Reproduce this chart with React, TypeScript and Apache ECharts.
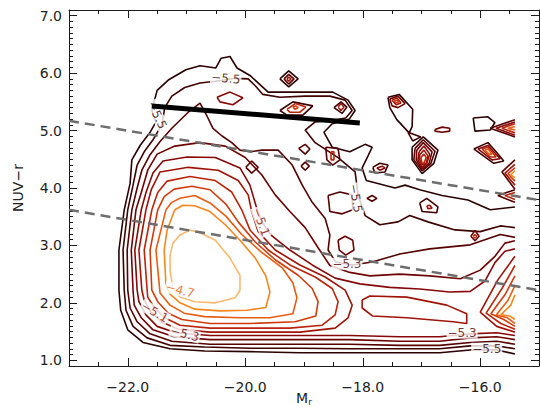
import React, { useEffect, useRef } from 'react';
import * as echarts from 'echarts';

const X_MIN = -23;
const X_MAX = -15;
const Y_MIN = 0.9;
const Y_MAX = 7.1;
const X_MAJOR = [-22, -20, -18, -16];
const X_MINOR = [-22.5, -21.5, -21, -20.5, -19.5, -19, -18.5, -17.5, -17, -16.5, -15.5];
const Y_MAJOR = [1, 2, 3, 4, 5, 6, 7];
const Y_MINOR_STEP = 0.1;
const LEVELS = [-5.5, -5.4, -5.3, -5.2, -5.1, -5.0, -4.9, -4.8, -4.7, -4.6, -4.5];

const L1 = [[-15.41,1.11],[-15.72,1.18],[-16.17,1.18],[-16.69,1.13],[-17.37,1.13],[-18.22,1.13],[-19.07,1.13],[-19.92,1.15],[-20.69,1.16],[-21.28,1.20],[-21.74,1.31],[-22.00,1.53],[-22.12,1.87],[-22.15,2.22],[-22.15,2.92],[-22.06,3.62],[-21.96,4.08],[-21.93,4.49],[-21.79,4.74],[-21.62,4.97],[-21.52,5.15],[-21.59,5.35],[-21.50,5.70],[-21.31,5.88],[-21.01,6.06],[-20.77,6.13],[-20.50,6.09],[-20.41,6.26],[-20.26,6.29],[-20.14,6.09],[-19.92,5.96],[-19.61,5.67],[-19.07,5.67],[-18.51,5.67],[-18.25,5.53],[-18.13,5.35],[-18.23,5.20],[-18.52,5.12],[-18.66,4.97],[-18.52,4.71],[-18.22,4.63],[-17.96,4.76],[-17.84,4.71],[-17.91,4.56],[-18.01,4.35],[-17.94,4.13],[-17.71,4.07],[-17.45,4.00],[-17.28,4.05],[-17.03,3.97],[-16.65,3.87],[-16.21,3.79],[-15.83,3.62],[-15.41,3.67]];
const L2 = [[-15.41,1.20],[-15.72,1.25],[-16.17,1.25],[-16.69,1.20],[-17.37,1.20],[-18.22,1.20],[-19.07,1.21],[-19.92,1.21],[-20.69,1.23],[-21.28,1.26],[-21.67,1.39],[-21.91,1.59],[-22.03,1.87],[-22.06,2.22],[-22.08,2.92],[-22.00,3.62],[-21.91,4.05],[-21.84,4.40],[-21.72,4.63],[-21.57,4.84],[-21.42,5.10],[-21.37,5.40],[-21.25,5.60],[-21.03,5.75],[-20.77,5.83],[-20.51,5.86],[-20.17,5.91],[-19.95,5.90],[-19.83,5.78],[-19.70,5.63],[-19.41,5.58],[-18.98,5.60],[-18.56,5.60],[-18.30,5.53],[-18.18,5.35],[-18.29,5.22],[-18.56,5.17],[-18.81,5.15],[-18.98,5.01],[-18.81,4.79],[-18.42,4.53],[-18.13,4.28],[-18.08,3.88],[-17.96,3.52],[-17.71,3.36],[-17.40,3.41],[-17.20,3.52],[-16.89,3.41],[-16.43,3.27],[-16.00,3.24],[-15.66,3.34],[-15.41,3.31]];
const L3 = [[-15.41,1.28],[-15.72,1.33],[-16.17,1.31],[-16.69,1.26],[-17.37,1.26],[-18.22,1.28],[-19.07,1.28],[-19.92,1.28],[-20.60,1.28],[-21.25,1.33],[-21.62,1.46],[-21.84,1.67],[-21.96,1.91],[-22.00,2.22],[-22.01,2.92],[-21.93,3.62],[-21.84,4.00],[-21.76,4.31],[-21.62,4.58],[-21.45,4.81],[-21.25,5.04],[-20.97,5.32],[-20.77,5.48],[-20.65,5.25],[-20.55,5.04],[-20.40,4.91],[-20.23,4.79],[-20.09,4.66],[-19.92,4.63],[-19.72,4.66],[-19.44,4.66],[-19.20,4.40],[-19.03,4.05],[-18.86,3.75],[-18.64,3.47],[-18.56,3.18],[-18.59,2.92],[-18.46,2.71],[-18.18,2.66],[-17.84,2.71],[-17.37,2.85],[-16.86,2.94],[-16.17,3.01],[-15.66,3.19],[-15.41,3.14]];
const L4 = [[-15.41,1.36],[-15.72,1.41],[-16.17,1.39],[-16.69,1.33],[-17.37,1.33],[-18.22,1.36],[-19.07,1.36],[-19.92,1.36],[-20.60,1.36],[-21.21,1.41],[-21.57,1.53],[-21.77,1.74],[-21.89,1.96],[-21.91,2.22],[-21.94,2.92],[-21.86,3.62],[-21.77,3.92],[-21.66,4.31],[-21.50,4.59],[-21.20,4.73],[-20.77,4.79],[-20.34,4.73],[-20.00,4.53],[-19.72,4.23],[-19.49,3.88],[-19.24,3.59],[-18.98,3.31],[-18.76,2.96],[-18.56,2.65],[-18.22,2.53],[-17.88,2.47],[-17.37,2.50],[-16.86,2.47],[-16.34,2.42],[-16.00,2.57],[-15.75,2.81],[-15.58,3.04],[-15.41,3.08]];
const L5 = [[-15.41,1.43],[-15.72,1.48],[-16.17,1.46],[-16.69,1.41],[-17.37,1.41],[-18.22,1.43],[-19.07,1.43],[-19.92,1.43],[-20.60,1.43],[-21.18,1.48],[-21.50,1.59],[-21.69,1.79],[-21.81,2.02],[-21.84,2.22],[-21.88,2.92],[-21.77,3.62],[-21.69,3.92],[-21.57,4.26],[-21.40,4.47],[-20.99,4.54],[-20.51,4.53],[-20.09,4.35],[-19.92,4.05],[-19.82,3.70],[-19.72,3.41],[-19.54,3.16],[-19.24,2.92],[-18.86,2.66],[-18.47,2.43],[-18.05,2.33],[-17.54,2.27],[-17.03,2.24],[-16.52,2.19],[-16.17,2.20],[-15.92,2.38],[-15.75,2.70],[-15.58,2.90],[-15.41,2.94]];
const L6 = [[-21.69,3.62],[-21.60,3.97],[-21.45,4.28],[-20.97,4.36],[-20.46,4.31],[-20.12,4.13],[-19.95,3.88],[-19.89,3.59],[-19.78,3.24],[-19.49,2.92],[-19.07,2.66],[-18.64,2.45],[-18.30,2.22],[-18.18,1.96],[-18.25,1.74],[-18.47,1.56],[-19.07,1.49],[-19.92,1.49],[-20.60,1.49],[-21.14,1.54],[-21.43,1.67],[-21.62,1.86],[-21.72,2.05],[-21.76,2.22],[-21.81,2.92],[-21.69,3.62]];
const L6_ISLAND = [[-18.01,2.05],[-17.88,2.12],[-17.25,2.10],[-16.57,1.96],[-16.23,1.81],[-16.23,1.64],[-16.46,1.67],[-17.25,1.74],[-17.83,1.77],[-18.01,1.91],[-18.01,2.05]];
const L7 = [[-21.59,3.62],[-21.49,3.92],[-21.33,4.12],[-20.94,4.20],[-20.51,4.13],[-20.23,3.93],[-20.06,3.62],[-19.92,3.27],[-19.61,2.92],[-19.24,2.66],[-18.81,2.45],[-18.52,2.25],[-18.42,2.02],[-18.47,1.79],[-18.69,1.61],[-19.24,1.56],[-19.92,1.56],[-20.60,1.56],[-21.11,1.61],[-21.37,1.74],[-21.55,1.92],[-21.66,2.10],[-21.67,2.22],[-21.72,2.92],[-21.59,3.62]];
const L8 = [[-21.49,3.62],[-21.38,3.85],[-21.21,3.98],[-20.91,4.03],[-20.60,3.97],[-20.33,3.72],[-20.12,3.41],[-19.83,3.06],[-19.49,2.75],[-19.10,2.48],[-18.86,2.25],[-18.76,2.02],[-18.80,1.77],[-19.15,1.67],[-19.92,1.64],[-20.60,1.64],[-21.08,1.71],[-21.31,1.82],[-21.49,2.02],[-21.59,2.22],[-21.62,2.92],[-21.49,3.62]];
const L9 = [[-21.35,3.62],[-21.25,3.75],[-21.11,3.82],[-20.86,3.87],[-20.60,3.74],[-20.33,3.51],[-20.06,3.19],[-19.72,2.88],[-19.37,2.61],[-19.19,2.35],[-19.12,2.09],[-19.19,1.81],[-19.58,1.74],[-20.09,1.74],[-20.69,1.76],[-21.04,1.82],[-21.28,1.96],[-21.45,2.17],[-21.52,2.92],[-21.35,3.62]];
const L10 = [[-21.20,3.62],[-21.06,3.70],[-20.86,3.69],[-20.60,3.59],[-20.34,3.36],[-20.09,3.09],[-19.83,2.78],[-19.65,2.47],[-19.58,2.19],[-19.65,1.92],[-19.97,1.87],[-20.43,1.86],[-20.86,1.89],[-21.11,2.00],[-21.28,2.15],[-21.35,2.31],[-21.38,2.92],[-21.33,3.27],[-21.20,3.62]];
const L11 = [[-20.94,3.27],[-20.77,3.22],[-20.51,3.09],[-20.26,2.78],[-20.09,2.48],[-20.09,2.22],[-20.17,2.09],[-20.51,2.00],[-20.86,2.02],[-21.11,2.10],[-21.23,2.25],[-21.28,2.57],[-21.28,2.83],[-21.23,3.04],[-21.11,3.18],[-20.94,3.27]];

// secondary peak at the faint end (right edge)
const RL6 = [[-15.41,2.81],[-15.70,2.40],[-16.00,1.84],[-15.72,1.59],[-15.41,1.49]];
const RL7 = [[-15.41,2.65],[-15.63,2.25],[-15.90,1.82],[-15.65,1.64],[-15.41,1.54]];
const RL8 = [[-15.41,2.47],[-15.58,2.14],[-15.82,1.81],[-15.60,1.71],[-15.41,1.59]];
const RL9 = [[-15.41,2.30],[-15.53,2.04],[-15.73,1.79],[-15.54,1.74],[-15.41,1.64]];
const RL10 = [[-15.41,2.14],[-15.48,1.96],[-15.65,1.79],[-15.49,1.77],[-15.41,1.71]];

// small islands
const D1A = [[-19.41,5.90],[-19.26,6.04],[-19.10,5.90],[-19.26,5.76],[-19.41,5.90]];
const D1B = [[-19.34,5.90],[-19.26,5.98],[-19.17,5.90],[-19.26,5.81],[-19.34,5.90]];
const D1C = [[-19.29,5.90],[-19.26,5.93],[-19.22,5.90],[-19.26,5.86],[-19.29,5.90]];
const I2 = [[-20.48,5.58],[-20.26,5.67],[-20.04,5.57],[-20.21,5.45],[-20.43,5.50],[-20.48,5.58]];
const I3A = [[-19.41,5.35],[-19.19,5.50],[-18.85,5.43],[-19.02,5.27],[-19.29,5.27],[-19.41,5.35]];
const I3B = [[-19.29,5.37],[-19.15,5.47],[-18.97,5.41],[-19.07,5.32],[-19.24,5.32],[-19.29,5.37]];
const I3C = [[-19.19,5.41],[-19.14,5.43],[-19.10,5.40],[-19.15,5.37],[-19.19,5.41]];
const I4A = [[-18.49,5.40],[-18.37,5.50],[-18.27,5.41],[-18.35,5.30],[-18.49,5.40]];
const I4B = [[-18.42,5.41],[-18.37,5.47],[-18.32,5.41],[-18.37,5.35],[-18.42,5.41]];
const I5A = [[-19.99,4.36],[-19.89,4.47],[-19.78,4.36],[-19.89,4.26],[-19.99,4.36]];
const I5B = [[-19.09,4.69],[-18.98,4.76],[-18.90,4.68],[-18.98,4.59],[-19.09,4.69]];
const I5C = [[-19.05,4.38],[-18.98,4.45],[-18.91,4.38],[-18.98,4.31],[-19.05,4.38]];
const I6A = [[-18.63,4.71],[-18.42,4.69],[-18.39,4.49],[-18.51,4.40],[-18.61,4.49],[-18.63,4.71]];
const I6B = [[-18.54,4.63],[-18.49,4.63],[-18.49,4.49],[-18.54,4.49],[-18.54,4.63]];
const I7A = [[-17.57,5.58],[-17.38,5.63],[-17.15,5.37],[-17.16,5.07],[-17.21,4.96],[-17.42,5.19],[-17.54,5.40],[-17.57,5.58]];
const I7B = [[-17.54,5.55],[-17.40,5.60],[-17.28,5.47],[-17.40,5.40],[-17.50,5.43],[-17.54,5.55]];
const I7C = [[-17.50,5.53],[-17.42,5.57],[-17.35,5.48],[-17.43,5.45],[-17.50,5.53]];
const I7D = [[-17.47,5.52],[-17.42,5.53],[-17.38,5.50],[-17.43,5.48],[-17.47,5.52]];
const I7T = [[-17.23,4.97],[-17.15,4.82],[-17.01,4.89],[-17.23,4.97]];
const N1 = [[-17.16,4.71],[-16.97,4.89],[-16.72,4.66],[-16.79,4.43],[-16.99,4.25],[-17.16,4.49],[-17.16,4.71]];
const N2 = [[-17.11,4.69],[-16.97,4.84],[-16.77,4.64],[-16.84,4.43],[-16.99,4.30],[-17.13,4.49],[-17.11,4.69]];
const N3 = [[-17.08,4.66],[-16.97,4.79],[-16.82,4.63],[-16.87,4.43],[-16.99,4.33],[-17.09,4.49],[-17.08,4.66]];
const N4 = [[-17.04,4.63],[-16.96,4.73],[-16.86,4.59],[-16.91,4.43],[-16.99,4.36],[-17.06,4.49],[-17.04,4.63]];
const N5 = [[-17.03,4.58],[-16.96,4.66],[-16.89,4.56],[-16.92,4.43],[-16.99,4.40],[-17.03,4.49],[-17.03,4.58]];
const N6 = [[-17.01,4.53],[-16.96,4.59],[-16.92,4.53],[-16.96,4.43],[-16.99,4.43],[-17.01,4.53]];
const I9 = [[-16.77,5.02],[-16.65,5.06],[-16.52,5.04],[-16.52,4.99],[-16.65,4.97],[-16.77,4.99],[-16.77,5.02]];
const I10 = [[-16.12,5.22],[-15.87,5.24],[-15.75,5.14],[-15.83,5.01],[-16.09,4.99],[-16.12,5.22]];
const T1A = [[-15.41,5.19],[-15.83,5.04],[-15.41,4.89]];
const T1B = [[-15.41,5.15],[-15.73,5.04],[-15.41,4.92]];
const T1C = [[-15.41,5.12],[-15.63,5.04],[-15.41,4.96]];
const T1D = [[-15.41,5.07],[-15.53,5.04],[-15.41,5.01]];
const T2A = [[-16.11,4.68],[-15.87,4.79],[-15.73,4.63],[-15.60,4.47],[-15.77,4.43],[-16.11,4.68]];
const T2B = [[-16.04,4.68],[-15.87,4.74],[-15.77,4.63],[-15.66,4.51],[-15.80,4.49],[-16.04,4.68]];
const T2C = [[-15.97,4.68],[-15.87,4.71],[-15.80,4.63],[-15.73,4.54],[-15.83,4.54],[-15.97,4.68]];
const T2D = [[-15.92,4.66],[-15.87,4.68],[-15.83,4.63],[-15.80,4.58],[-15.85,4.59],[-15.92,4.66]];
const T3A = [[-15.41,4.49],[-15.63,4.28],[-15.41,3.98]];
const T3B = [[-15.41,4.41],[-15.58,4.26],[-15.41,4.05]];
const T3C = [[-15.41,4.35],[-15.53,4.25],[-15.41,4.12]];
const T3D = [[-15.41,4.30],[-15.48,4.23],[-15.41,4.18]];
const T4A = [[-15.41,3.97],[-15.70,3.87],[-15.41,3.75]];
const T4B = [[-15.41,3.92],[-15.58,3.87],[-15.41,3.80]];
const I14A = [[-17.83,4.36],[-17.71,4.43],[-17.57,4.40],[-17.62,4.28],[-17.79,4.26],[-17.83,4.36]];
const I14B = [[-17.76,4.35],[-17.67,4.38],[-17.62,4.35],[-17.71,4.31],[-17.76,4.35]];
const I15A = [[-17.03,3.74],[-16.91,3.82],[-16.72,3.67],[-16.74,3.57],[-16.99,3.59],[-17.03,3.74]];
const I15B = [[-16.91,3.69],[-16.86,3.70],[-16.82,3.65],[-16.89,3.64],[-16.91,3.69]];
const I16 = [[-17.93,3.82],[-17.84,3.87],[-17.76,3.82],[-17.84,3.77],[-17.93,3.82]];
const SQ = [[-18.59,3.87],[-18.39,3.93],[-18.18,3.88],[-18.17,3.62],[-18.35,3.55],[-18.56,3.59],[-18.59,3.87]];
const HEX = [[-18.42,3.09],[-18.30,3.16],[-18.17,3.09],[-18.15,2.92],[-18.29,2.83],[-18.40,2.92],[-18.42,3.09]];
const D2A = [[-16.16,3.16],[-16.09,3.26],[-16.02,3.16],[-16.09,3.08],[-16.16,3.16]];
const D2B = [[-16.12,3.16],[-16.09,3.19],[-16.06,3.16],[-16.09,3.13],[-16.12,3.16]];

// [level index, polyline]
const CONTOURS: [number, number[][]][] = [
  [0, L1], [1, L2], [2, L3], [3, L4], [4, L5], [5, L6], [5, L6_ISLAND], [6, L7], [7, L8], [8, L9], [9, L10], [10, L11],
  [5, RL6], [6, RL7], [7, RL8], [8, RL9], [9, RL10],
  [0, D1A], [2, D1B], [5, D1C], [4, I2], [1, I3A], [6, I3B], [7, I3C], [1, I4A], [5, I4B],
  [2, I5A], [2, I5B], [2, I5C], [2, I6A], [6, I6B],
  [0, I7A], [3, I7B], [5, I7C], [7, I7D], [1, I7T],
  [0, N1], [2, N2], [3, N3], [4, N4], [5, N5], [6, N6],
  [3, I9], [0, I10], [2, T1A], [4, T1B], [6, T1C], [8, T1D],
  [1, T2A], [4, T2B], [6, T2C], [8, T2D],
  [2, T3A], [5, T3B], [7, T3C], [9, T3D], [2, T4A], [6, T4B],
  [1, I14A], [4, I14B], [1, I15A], [5, I15B], [2, I16], [2, SQ], [3, HEX], [3, D2A], [6, D2B],
];

// [x, y, text, level index, rotation]
const CONTOUR_LABELS: [number, number, string, number, number][] = [
  [-20.33, 5.91, '\u22125.5', 1, -5],
  [-21.50, 5.27, '\u22125.5', 0, -65],
  [-19.73, 3.41, '\u22125.1', 4, -70],
  [-18.27, 2.68, '\u22125.3', 2, 0],
  [-18.12, 3.82, '\u22125.5', 1, -80],
  [-15.89, 1.20, '\u22125.5', 0, 0],
  [-16.31, 1.48, '\u22125.3', 2, 0],
  [-21.11, 2.22, '\u22124.7', 8, -15],
  [-21.54, 1.84, '\u22125.1', 4, -30],
  [-21.03, 1.46, '\u22125.3', 2, -15],
];

const BLACK_LINE = [[-21.59, 5.43], [-18.05, 5.13]];
const DASH_UPPER = [[-23, 5.17], [-15, 3.79]];
const DASH_LOWER = [[-23, 3.62], [-15, 2.22]];

const COLORS = ['#2b0000', '#3f0000', '#560000', '#6e0202', '#870808', '#a01408', '#b9240a', '#d23c0c', '#e85c12', '#f5861e', '#fdb870'];
const FONT = '"DejaVu Sans", "Liberation Sans", sans-serif';
const AXIS_COLOR = '#1a1a1a';

const fmt = (v: number) => (v < 0 ? '\u2212' : '') + Math.abs(v).toFixed(1);

function buildOption() {
  const xb = { type: 'value', min: X_MIN, max: X_MAX, splitLine: { show: false } };
  const xAxis = [
    {
      ...xb, position: 'bottom',
      axisLine: { show: true, onZero: false, lineStyle: { color: AXIS_COLOR, width: 1 } },
      axisTick: { show: true, inside: true, length: 8, customValues: X_MAJOR, lineStyle: { color: AXIS_COLOR } },
      axisLabel: { show: true, customValues: X_MAJOR, formatter: fmt, margin: 14, fontFamily: FONT, fontSize: 14, color: '#222' },
      name: '{m|M}{r|r}', nameLocation: 'middle', nameGap: 24, nameMoveOverlap: false,
      nameTextStyle: { rich: { m: { fontFamily: FONT, fontSize: 14, color: '#222' }, r: { fontFamily: FONT, fontSize: 9, color: '#222', padding: [7, 0, 0, 0] } } },
    },
    {
      ...xb, position: 'bottom',
      axisLine: { show: false, onZero: false },
      axisTick: { show: true, inside: true, length: 4, customValues: X_MINOR, lineStyle: { color: AXIS_COLOR } },
      axisLabel: { show: false },
    },
    {
      ...xb, position: 'top',
      axisLine: { show: true, onZero: false, lineStyle: { color: AXIS_COLOR, width: 1 } },
      axisTick: { show: true, inside: true, length: 8, customValues: X_MAJOR, lineStyle: { color: AXIS_COLOR } },
      axisLabel: { show: false },
    },
    {
      ...xb, position: 'top',
      axisLine: { show: false, onZero: false },
      axisTick: { show: true, inside: true, length: 4, customValues: X_MINOR, lineStyle: { color: AXIS_COLOR } },
      axisLabel: { show: false },
    },
  ];
  const yb = { type: 'value', min: Y_MIN, max: Y_MAX, splitLine: { show: false } };
  const yMajor = (pos: string) => ({
    ...yb, position: pos,
    axisLine: { show: true, onZero: false, lineStyle: { color: AXIS_COLOR, width: 1 } },
    axisTick: { show: true, inside: true, length: 8, customValues: Y_MAJOR, lineStyle: { color: AXIS_COLOR } },
  });
  const yMinor = (pos: string) => ({
    ...yb, position: pos, interval: Y_MINOR_STEP,
    axisLine: { show: false, onZero: false },
    axisTick: { show: true, inside: true, length: 4, lineStyle: { color: AXIS_COLOR } },
    axisLabel: { show: false },
  });
  const yAxis = [
    {
      ...yMajor('left'),
      axisLabel: { show: true, customValues: Y_MAJOR, formatter: (v: number) => v.toFixed(1), margin: 7, fontFamily: FONT, fontSize: 14, color: '#222' },
      name: 'NUV\u2212r', nameLocation: 'middle', nameGap: 44, nameRotate: 90, nameMoveOverlap: false,
      nameTextStyle: { fontFamily: FONT, fontSize: 14, color: '#222' },
    },
    yMinor('left'),
    { ...yMajor('right'), axisLabel: { show: false } },
    yMinor('right'),
  ];

  const series: any[] = CONTOURS.map(([lvl, pts], i) => ({
    id: 'c' + i,
    name: 'level ' + LEVELS[lvl],
    type: 'line', xAxisIndex: 0, yAxisIndex: 0,
    data: pts, symbol: 'none', showSymbol: false, silent: true, z: 2,
    lineStyle: { color: COLORS[lvl], width: 1.6 },
  }));

  series.push({
    type: 'scatter', xAxisIndex: 0, yAxisIndex: 0, silent: true, z: 5,
    symbolSize: 1, itemStyle: { color: 'rgba(255,255,255,0)' },
    data: CONTOUR_LABELS.map(([x, y, t, l, r]) => ({ value: [x, y], name: t, label: { rotate: r, color: COLORS[l] } })),
    label: { show: true, position: 'inside', formatter: '{b}', fontFamily: FONT, fontSize: 12, backgroundColor: '#fff', padding: [0, 1] },
  });
  series.push({
    type: 'line', xAxisIndex: 0, yAxisIndex: 0, data: DASH_UPPER, symbol: 'none', silent: true, z: 6,
    lineStyle: { color: '#6e6e6e', width: 2.5, type: [10, 6] },
  });
  series.push({
    type: 'line', xAxisIndex: 0, yAxisIndex: 0, data: DASH_LOWER, symbol: 'none', silent: true, z: 6,
    lineStyle: { color: '#6e6e6e', width: 2.5, type: [10, 6] },
  });
  series.push({
    type: 'line', xAxisIndex: 0, yAxisIndex: 0, data: BLACK_LINE, symbol: 'none', silent: true, z: 7,
    lineStyle: { color: '#000', width: 5 },
  });

  return {
    animation: false,
    backgroundColor: '#fff',
    grid: { left: 69, top: 10, width: 470, height: 356, outerBoundsMode: 'none', containLabel: false },
    xAxis, yAxis, series,
  };
}

export default function App() {
  const ref = useRef<HTMLDivElement>(null);
  useEffect(() => {
    if (!ref.current) return;
    const chart = echarts.init(ref.current, null, { renderer: 'svg' });
    chart.setOption(buildOption() as any);
    return () => chart.dispose();
  }, []);
  return <div ref={ref} style={{ position: 'absolute', left: 0, top: 0, width: 540, height: 412, background: '#fff' }} />;
}
